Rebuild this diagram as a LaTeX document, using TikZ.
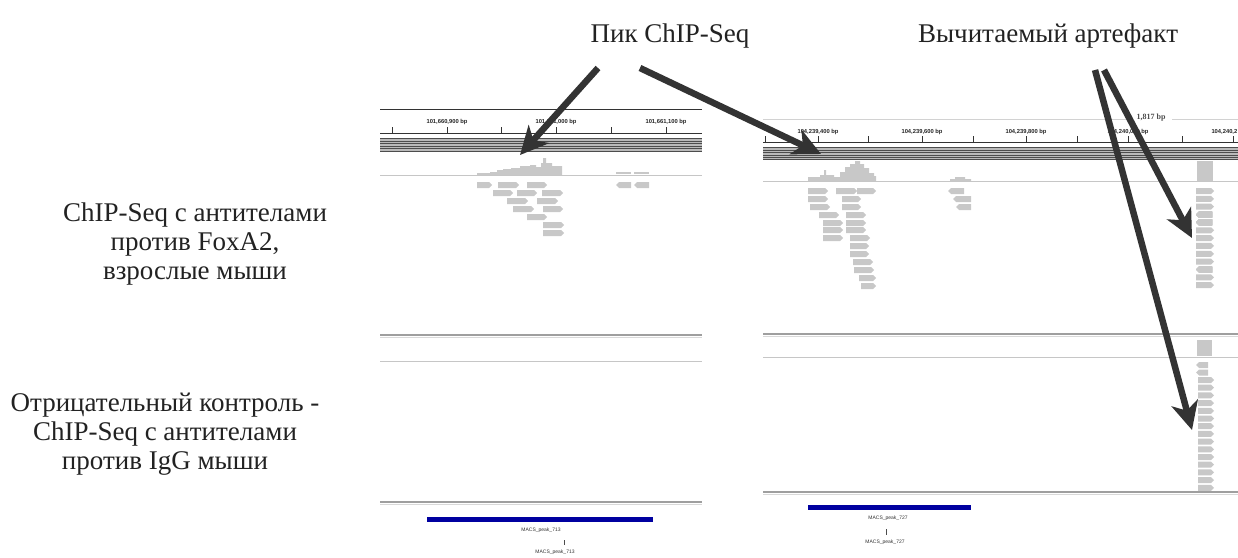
\documentclass[tikz,border=0pt]{standalone}
\usepackage{fontspec}
\setmainfont{Liberation Serif}
\newfontfamily\smallsans{Liberation Sans}
\usetikzlibrary{arrows.meta}
\definecolor{arrc}{HTML}{333333}
\definecolor{readc}{HTML}{C8C8C8}
\definecolor{bluebar}{HTML}{0000A0}
\definecolor{txtc}{HTML}{222222}
\newcommand\readR[3]{\fill[readc] (#1,#3) -- ({#2-3},#3) -- (#2,{#3+3}) -- ({#2-3},{#3+6}) -- (#1,{#3+6}) -- cycle;}
\newcommand\readL[3]{\fill[readc] ({#1+3},#3) -- (#2,#3) -- (#2,{#3+6}) -- ({#1+3},{#3+6}) -- (#1,{#3+3}) -- cycle;}
\tikzset{
  biglabel/.style={font=\fontsize{27}{28.8}\selectfont, text=txtc, align=center, inner sep=0pt},
  bigarrow/.style={draw=arrc, line width=6.5pt, -{Stealth[length=28pt,width=27pt,inset=8pt,fill=arrc]}},
  rulertext/.style={font=\smallsans\bfseries\fontsize{5.8}{6.5}\selectfont, inner sep=0pt, text=black!85},
  tinytext/.style={font=\smallsans\fontsize{5}{6}\selectfont, inner sep=0pt, text=black!80},
  rulerline/.style={draw=black!80, line width=0.8pt},
  stripe/.style={draw=black!70, line width=0.7pt},
  dbl/.style={draw=gray!75, line width=1.6pt},
  dbllight/.style={draw=gray!30, line width=0.8pt},
  thinline/.style={draw=gray!45, line width=0.8pt},
  histo/.style={fill=readc},
  peakbar/.style={fill=bluebar},
}
\begin{document}
\begin{tikzpicture}[x=1pt,y=-1pt]
\useasboundingbox (0,0) rectangle (1238,557);
\clip (0,0) rectangle (1238,557);
\fill[white] (0,0) rectangle (1238,557);

% ---------- labels ----------
\node[biglabel] (peak) at (670,36) {Пик ChIP-Seq};
\node[biglabel] (artef) at (1048,36) {Вычитаемый артефакт};
\node[biglabel] (foxa) at (195,244) {ChIP-Seq с антителами\\против FoxA2,\\взрослые мыши};
\node[biglabel] (igg) at (165,434) {Отрицательный контроль -\\ChIP-Seq с антителами\\против IgG мыши};

% ---------- left panel ----------
\draw[rulerline] (380,109) -- (702,109);
\draw[rulerline] (380,133) -- (702,133);
\foreach \x in {392,447,501,556,611,666} \draw[rulerline] (\x,127) -- (\x,133);
\node[rulertext] (l1) at (447,122) {101,660,900 bp};
\node[rulertext] (l2) at (556,122) {101,661,000 bp};
\node[rulertext] (l3) at (666,122) {101,661,100 bp};
\fill[gray!55] (380,138) rectangle (702,152);
\foreach \y in {138.5,141,143.5,146,148.5,151} \draw[stripe] (380,\y) -- (702,\y);
\fill[histo] (477,175) -- (477,173) -- (490,173) -- (490,172) -- (497,172) -- (497,170) -- (503,170) -- (503,169) -- (511,169) -- (511,168) -- (520,168) -- (520,166) -- (530,166) -- (530,165) -- (536,165) -- (536,167) -- (541,167) -- (541,163) -- (543,163) -- (543,158) -- (546,158) -- (546,163) -- (552,163) -- (552,166) -- (562,166) -- (562,175) -- cycle;
\fill[histo] (616,172) rectangle (631,173.5);
\fill[histo] (634,172) rectangle (649,173.5);
\draw[thinline] (380,175.5) -- (702,175.5);
\readR{477}{492}{182} \readR{498}{519}{182} \readR{527}{547}{182} \readL{616}{631}{182} \readL{634}{649}{182}
\readR{493}{513}{190} \readR{517}{537}{190} \readR{542}{563}{190}
\readR{507}{528}{198} \readR{537}{558}{198}
\readR{513}{534}{206} \readR{543}{563}{206}
\readR{527}{547}{214}
\readR{543}{564}{222}
\readR{543}{564}{230}
\draw[dbl] (380,335) -- (702,335);
\draw[dbllight] (380,337.5) -- (702,337.5);
\draw[thinline] (380,361.5) -- (702,361.5);
\draw[dbl] (380,502) -- (702,502);
\draw[dbllight] (380,504.5) -- (702,504.5);
\fill[peakbar] (427,516.5) rectangle (653,522);
\node[tinytext] (m1) at (541,530) {MACS\_peak\_713};
\draw[black!70, line width=0.5pt] (564,540) -- (564,545);
\node[tinytext] (m2) at (555,552) {MACS\_peak\_713};

% ---------- right panel ----------
\draw[gray!35, line width=0.6pt] (763,119) -- (1130,119);
\draw[gray!35, line width=0.6pt] (1172,119) -- (1238,119);
\node[font=\bfseries\fontsize{8}{9}\selectfont, text=black!70, inner sep=0pt] (len) at (1151,118) {1,817 bp};
\draw[rulerline] (763,142) -- (1238,142);
\foreach \x in {765,818,868,922,973,1026,1077,1128,1182,1233} \draw[rulerline] (\x,136) -- (\x,142);
\node[rulertext] (r1) at (818,132) {104,239,400 bp};
\node[rulertext] (r2) at (922,132) {104,239,600 bp};
\node[rulertext] (r3) at (1026,132) {104,239,800 bp};
\node[rulertext] (r4) at (1128,132) {104,240,000 bp};
\node[rulertext, anchor=east] (r5) at (1237.5,132) {104,240,2};
\fill[gray!55] (763,147) rectangle (1238,160);
\foreach \y in {147.5,150,152.5,155,157.5,159.8} \draw[stripe] (763,\y) -- (1238,\y);
\fill[histo] (808,181) -- (808,177) -- (820,177) -- (820,175) -- (824,175) -- (824,170) -- (826,170) -- (826,175) -- (834,175) -- (834,177) -- (840,177) -- (840,172) -- (845,172) -- (845,167) -- (850,167) -- (850,164) -- (855,164) -- (855,161) -- (860,161) -- (860,164) -- (864,164) -- (864,168) -- (869,168) -- (869,173) -- (874,173) -- (874,176) -- (876,176) -- (876,181) -- cycle;
\fill[histo] (950,181) -- (950,179) -- (955,179) -- (955,177) -- (965,177) -- (965,179) -- (971,179) -- (971,181) -- cycle;
\fill[histo] (1197,160.5) rectangle (1213,181);
\draw[thinline] (763,181.5) -- (1238,181.5);
\readR{808}{828}{188} \readR{836}{857}{188} \readR{857}{876}{188} \readL{948}{964}{188}
\readR{808}{828}{196} \readR{842}{861}{196} \readL{953}{971}{196}
\readR{810}{830}{204} \readR{842}{861}{204} \readL{956}{971}{204}
\readR{819}{839}{212} \readR{846}{866}{212}
\readR{823}{843}{220} \readR{846}{866}{220}
\readR{823}{843}{227} \readR{846}{866}{227}
\readR{823}{843}{235} \readR{850}{870}{235}
\readR{850}{869}{243}
\readR{850}{869}{251}
\readR{853}{873}{259}
\readR{854}{874}{267}
\readR{859}{876}{275}
\readR{861}{876}{283}
\foreach \k in {0,1,2,5,6,7,8,9,11,12} \readR{1196}{1214}{188+7.85*\k}
\foreach \k in {3,4,10} \readL{1196}{1212}{188+7.85*\k}
\draw[dbl] (763,334) -- (1238,334);
\draw[dbllight] (763,336.5) -- (1238,336.5);
\draw[thinline] (763,357) -- (1238,357);
\fill[histo] (1197,340) rectangle (1212,356);
\readL{1196}{1208}{362} \readL{1196}{1208}{369.5}
\foreach \k in {0,...,14} \readR{1198}{1214}{377+7.7*\k}
\draw[dbl] (763,492) -- (1238,492);
\draw[dbllight] (763,494.5) -- (1238,494.5);
\fill[peakbar] (808,504.5) rectangle (971,510);
\node[tinytext] (m3) at (888,518) {MACS\_peak\_727};
\draw[black!70, line width=0.5pt] (886,529) -- (886,535);
\node[tinytext] (m4) at (885,542) {MACS\_peak\_727};

% ---------- arrows ----------
\coordinate (p1s) at (598,68);
\coordinate (p1e) at (520,155);
\coordinate (p2s) at (640,68);
\coordinate (p2e) at (821,154);
\coordinate (a1s) at (1104,70);
\coordinate (a1e) at (1192,238);
\coordinate (a2s) at (1095,70);
\coordinate (a2e) at (1192,430);
\draw[bigarrow] (p1s) -- (p1e);
\draw[bigarrow] (p2s) -- (p2e);
\draw[bigarrow] (a1s) -- (a1e);
\draw[bigarrow] (a2s) -- (a2e);
\end{tikzpicture}
\end{document}
